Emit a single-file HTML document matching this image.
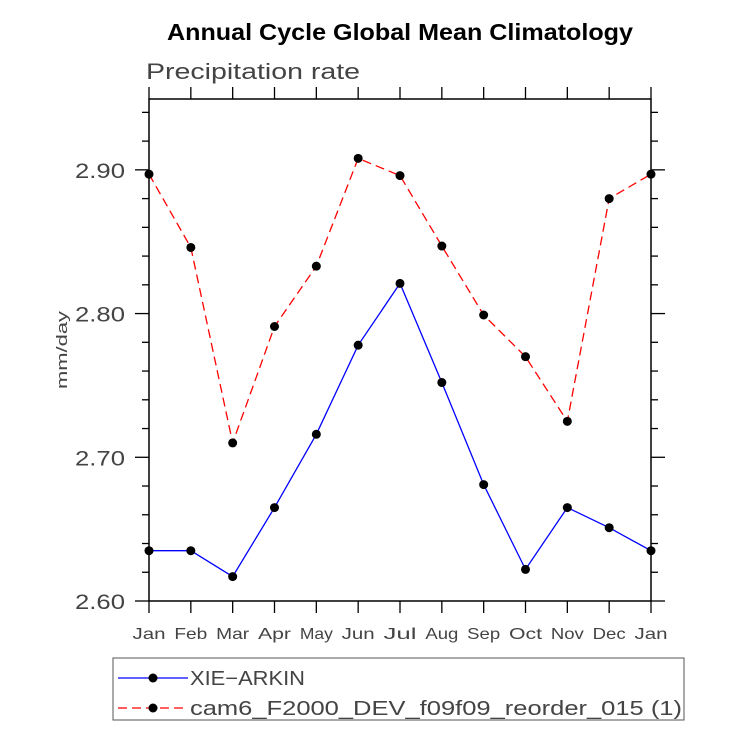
<!DOCTYPE html>
<html><head><meta charset="utf-8"><style>
html,body{margin:0;padding:0;background:#fff;}
svg{display:block;font-family:"Liberation Sans",sans-serif;}
</style></head><body>
<svg id="chart" width="733" height="732">
<text x="167" y="40" textLength="466" lengthAdjust="spacingAndGlyphs" font-size="23" font-weight="bold">Annual Cycle Global Mean Climatology</text>
<text x="146" y="79" textLength="214" lengthAdjust="spacingAndGlyphs" font-size="22" fill="#444">Precipitation rate</text>
<text transform="translate(67,350) rotate(-90)" text-anchor="middle" textLength="78" lengthAdjust="spacingAndGlyphs" font-size="15" fill="#444">mm/day</text>
<g id="axes"></g><g id="series"></g>
<rect x="113" y="658" width="571" height="62" fill="none" stroke="#555" stroke-width="1"/>
<g>
<line x1="118" y1="678" x2="188" y2="678" stroke="#00f" stroke-width="1.3"/><circle cx="153" cy="678" r="4.5"/>
<text x="190" y="685" textLength="115" lengthAdjust="spacingAndGlyphs" font-size="20" fill="#444">XIE−ARKIN</text></g>
<g>
<line x1="118" y1="708" x2="188" y2="708" stroke="#f00" stroke-width="1.3" stroke-dasharray="9,5"/><circle cx="153" cy="708" r="4.5"/>
<text x="190" y="715" textLength="492" lengthAdjust="spacingAndGlyphs" font-size="20" fill="#444">cam6_F2000_DEV_f09f09_reorder_015 (1)</text></g>
</svg>
<script>
const months=["Jan","Feb","Mar","Apr","May","Jun","Jul","Aug","Sep","Oct","Nov","Dec","Jan"];
const xieValues=[2.635,2.635,2.617,2.665,2.716,2.778,2.821,2.752,2.681,2.622,2.665,2.651,2.635];
const camValues=[2.897,2.846,2.710,2.791,2.833,2.908,2.896,2.847,2.799,2.770,2.725,2.880,2.897];
const yTicks=["2.60","2.70","2.80","2.90"];
const X0=149,X1=651,Y0=601,Y1=99,ymin=2.60,ymax=2.9493;
const NS="http://www.w3.org/2000/svg";
function xs(i){return X0+(X1-X0)*i/(months.length-1);}
function ys(v){return Y0-(v-ymin)/(ymax-ymin)*(Y0-Y1);}
function mk(t,a,p){const e=document.createElementNS(NS,t);for(const k in a)e.setAttribute(k,a[k]);p.appendChild(e);return e;}
const ax=document.getElementById('axes');
const fr=mk('rect',{x:X0,y:Y1,width:X1-X0,height:Y0-Y1,fill:'none',stroke:'#000','stroke-width':1.5},ax);


months.forEach((m,i)=>{const x=xs(i);
mk('line',{x1:x,y1:Y0,x2:x,y2:Y0+12,stroke:'#000','stroke-width':1.3},ax);
mk('line',{x1:x,y1:Y1,x2:x,y2:Y1-12,stroke:'#000','stroke-width':1.3},ax);
const t=mk('text',{x:x,y:Y0+38,'text-anchor':'middle','font-size':16,fill:'#444',textLength:m.length*11,lengthAdjust:'spacingAndGlyphs'},ax);t.textContent=m;

});
for(let k=0;k<=17;k++){const v=ymin+k*0.02;if(v>ymax)break;const y=ys(v);const major=k%5==0;const L=major?14:7;
mk('line',{x1:X0,y1:y,x2:X0-L,y2:y,stroke:'#000','stroke-width':1.3},ax);
mk('line',{x1:X1,y1:y,x2:X1+L,y2:y,stroke:'#000','stroke-width':1.3},ax);}
yTicks.forEach(s=>{const t=mk('text',{x:X0-24,y:ys(parseFloat(s))+8,'text-anchor':'end','font-size':21,fill:'#444',textLength:50,lengthAdjust:'spacingAndGlyphs'},ax);t.textContent=s;

});
const sg=document.getElementById('series');
function draw(vals,color,dash,name){const g=mk('g',{},sg);


mk('polyline',{points:vals.map((v,i)=>xs(i)+','+ys(v)).join(' '),fill:'none',stroke:color,'stroke-width':1.3,'stroke-dasharray':dash},g);
vals.forEach((v,i)=>{const c=mk('circle',{cx:xs(i),cy:ys(v),r:4.5,fill:'#000'},g);

});}
draw(xieValues,'#00f','none','series-xie-arkin');
draw(camValues,'#f00','9,5','series-cam6');
</script>
</body></html>
